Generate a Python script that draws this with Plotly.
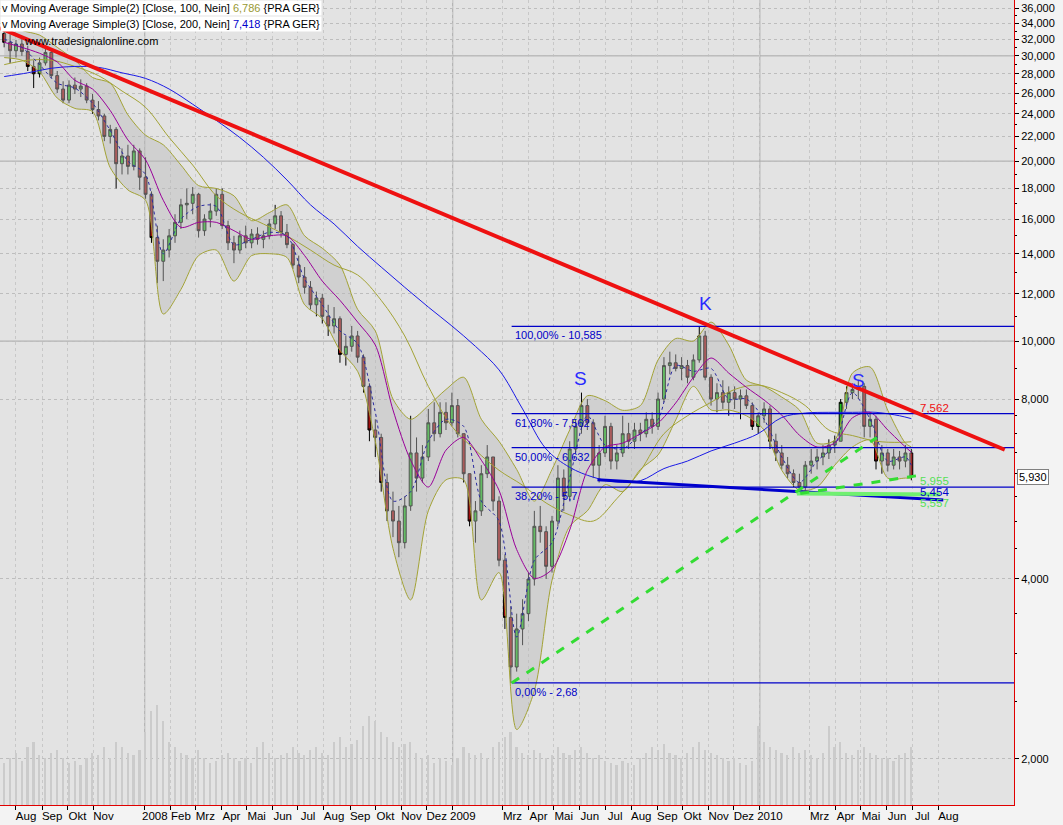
import numpy as np
import pandas as pd
import plotly.graph_objects as go

# ---------------- data (weekly) ----------------
week_start = "2007-07-18"
n_weeks = 155
dates = pd.date_range(week_start, periods=n_weeks, freq="7D")

opens = [32.7,31.6,30.6,31.4,30.5,28.8,28.0,29.2,30.4,27.8,
         26.4,25.3,26.8,26.4,26.7,25.3,24.4,23.8,22.0,22.6,
         19.8,20.4,19.6,20.8,18.8,17.6,14.9,13.6,14.2,15.0,
         15.8,16.9,17.0,17.6,15.3,16.0,16.5,17.6,15.6,14.6,
         14.2,15.0,14.6,15.1,14.8,15.0,15.7,16.2,15.2,14.5,
         13.4,12.8,12.3,11.5,11.8,11.0,10.6,10.9,9.5,9.8,
         10.2,9.4,8.4,7.1,6.9,5.8,5.2,5.0,4.6,5.3,
         6.5,5.9,6.4,7.3,7.0,7.6,7.3,7.8,7.0,6.0,
         5.0,5.2,6.0,6.4,5.4,4.3,3.45,2.85,3.3,3.5,
         4.0,4.9,4.8,4.2,5.0,5.9,5.5,6.6,7.2,7.8,
         7.3,6.2,6.5,7.2,6.3,6.5,7.0,6.8,7.1,7.0,
         7.4,7.2,8.0,9.1,9.2,9.0,9.1,8.7,9.3,10.2,
         8.7,8.0,8.2,7.9,8.2,8.0,8.1,7.8,7.2,7.5,
         7.7,6.8,6.5,6.2,6.0,5.8,5.7,6.2,6.3,6.4,
         6.5,6.7,6.8,7.9,8.2,8.3,8.4,7.2,7.4,6.3,
         6.5,6.2,6.4,6.3,6.5]
highs = [33.3,32.6,31.9,32.0,31.2,29.5,29.8,31.2,30.6,28.3,
         27.2,27.3,27.6,27.4,27.0,25.9,25.2,24.0,23.0,22.8,
         21.0,21.3,21.3,21.0,20.3,17.8,15.6,14.8,15.4,16.3,
         17.3,18.0,18.1,17.7,16.3,17.0,18.0,18.0,15.9,15.0,
         15.3,15.6,15.4,15.5,15.3,16.0,16.9,16.5,15.7,14.6,
         13.9,13.3,12.6,12.1,12.0,11.5,11.4,11.0,10.2,10.6,
         10.4,9.5,8.5,7.4,7.0,6.0,5.6,5.3,5.5,7.5,
         6.9,6.7,7.7,7.9,7.9,7.9,8.2,8.0,7.0,6.0,
         5.4,6.2,6.7,6.4,5.5,4.4,3.6,3.5,3.7,4.1,
         5.2,5.3,4.9,5.1,6.2,6.1,6.8,7.4,8.2,8.0,
         7.4,6.7,7.5,7.3,6.7,7.5,7.3,7.3,7.3,7.6,
         7.6,8.2,9.4,9.6,9.5,9.4,9.3,9.5,10.585,10.4,
         8.8,8.5,8.6,8.4,8.4,8.3,8.3,7.9,7.6,7.9,
         7.8,7.0,6.7,6.4,6.1,6.0,6.3,6.6,6.6,6.7,
         6.85,6.95,8.0,8.4,8.5,8.6,8.5,7.6,7.5,6.7,
         6.6,6.6,6.55,6.7,6.6]
lows = [31.0,29.2,29.8,30.0,28.3,26.5,27.6,28.9,27.5,26.0,
        25.0,25.0,25.9,25.6,25.0,24.0,23.4,21.6,21.4,18.0,
        19.0,19.0,19.3,17.9,17.3,14.6,12.5,12.6,13.8,14.6,
        15.4,16.0,16.3,14.9,15.0,15.5,16.2,15.4,14.2,13.5,
        14.0,14.3,14.3,14.5,14.3,14.8,15.4,14.9,14.3,13.2,
        12.5,12.0,11.3,11.0,10.7,10.2,10.3,9.2,9.1,9.6,
        9.2,8.2,6.8,6.4,5.6,5.0,4.7,4.35,4.5,5.2,
        5.6,5.8,6.3,6.8,6.9,7.1,7.2,6.9,5.8,4.9,
        4.6,5.1,5.9,5.2,4.2,3.3,2.68,2.8,3.1,3.4,
        3.9,4.6,4.0,4.1,4.9,5.2,5.4,6.5,7.0,7.1,
        5.9,5.8,6.4,6.1,6.1,6.4,6.6,6.6,6.8,6.9,
        7.0,7.1,7.9,8.8,8.9,8.6,8.5,8.6,9.2,8.6,
        7.8,7.6,7.7,7.5,7.7,7.4,7.7,7.1,7.0,7.3,
        6.6,6.3,6.1,5.9,5.7,5.55,5.6,6.0,6.1,6.2,
        6.35,6.5,6.8,7.7,8.0,8.0,6.9,6.9,6.1,6.0,
        6.05,6.1,6.1,6.15,5.85]
closes = [31.6,30.6,31.4,30.5,28.8,28.0,29.2,30.4,27.8,26.4,
          25.3,26.8,26.4,26.7,25.3,24.4,23.8,22.0,22.6,19.8,
          20.4,19.6,20.8,18.8,17.6,14.9,13.6,14.2,15.0,15.8,
          16.9,17.0,17.6,15.3,16.0,16.5,17.6,15.6,14.6,14.2,
          15.0,14.6,15.1,14.8,15.0,15.7,16.2,15.2,14.5,13.4,
          12.8,12.3,11.5,11.8,11.0,10.6,10.9,9.5,9.8,10.2,
          9.4,8.4,7.1,6.9,5.8,5.2,5.0,4.6,5.3,6.5,
          5.9,6.4,7.3,7.0,7.6,7.3,7.8,7.0,6.0,5.0,
          5.2,6.0,6.4,5.4,4.3,3.45,2.85,3.3,3.5,4.0,
          4.9,4.8,4.2,5.0,5.9,5.5,6.6,7.2,7.8,7.3,
          6.2,6.5,7.2,6.3,6.5,7.0,6.8,7.1,7.0,7.4,
          7.2,8.0,9.1,9.2,9.0,9.1,8.7,9.3,10.2,8.7,
          8.0,8.2,7.9,8.2,8.0,8.1,7.8,7.2,7.5,7.7,
          6.8,6.5,6.2,6.0,5.8,5.7,6.2,6.3,6.4,6.5,
          6.7,6.8,7.9,8.2,8.3,8.4,7.2,7.4,6.3,6.5,
          6.2,6.4,6.3,6.5,5.93]
volume = [40,45,50,42,55,60,48,45,50,52,
          45,40,42,38,45,50,48,55,45,60,
          55,50,48,52,70,90,95,80,60,55,
          50,48,45,52,45,40,42,48,50,45,
          42,45,40,55,60,50,45,48,50,55,
          50,48,52,55,50,48,60,65,55,58,
          62,75,85,80,70,65,60,55,58,60,
          50,45,48,40,45,42,38,45,55,50,
          48,50,45,55,60,65,70,55,50,48,
          52,50,45,48,55,50,48,52,55,50,
          45,48,42,40,38,42,40,38,45,50,
          55,52,58,50,48,45,50,55,60,52,
          50,48,45,42,45,40,38,42,75,60,
          55,52,50,48,55,50,52,48,45,50,
          75,55,60,50,48,52,55,50,48,45,
          45,42,48,50,55]

# indicator lines, sampled every 3rd week (plus last week)
ind_idx = list(range(0, 154, 3)) + [154]
bb_upper = [34.5,33.1,32.5,31.0,29.5,27.6,27.0,23.9,22.1,21.3,
            19.7,18.2,18.0,17.5,15.9,16.4,16.9,15.0,14.3,13.4,
            11.3,10.4,8.0,7.4,7.8,8.3,8.7,7.4,6.8,6.1,
            5.4,6.1,7.1,8.1,7.95,7.66,7.8,9.3,10.1,10.0,
            10.76,9.85,8.6,8.4,8.06,7.67,6.75,6.83,8.84,9.05,
            7.66,6.75,6.65]
bb_lower = [29.8,29.5,28.2,25.5,24.5,24.2,19.5,17.9,17.2,11.1,
            12.2,13.9,14.2,12.6,13.9,14.0,13.8,11.5,10.9,9.65,
            8.9,6.8,4.5,3.69,5.2,5.86,5.86,3.69,4.1,2.24,
            2.6,3.98,4.9,5.2,5.75,5.6,6.1,6.45,7.38,8.4,
            7.67,7.67,7.5,7.1,6.08,5.63,5.70,6.2,6.65,6.83,
            5.9,5.9,5.9]
bb_mid = [31.6,31.0,30.3,29.3,27.3,26.4,24.3,21.7,20.1,17.2,
          15.5,15.8,15.8,15.3,14.8,15.0,15.0,13.9,12.6,11.7,
          10.76,9.85,7.67,6.32,5.70,6.57,6.9,6.32,5.63,4.48,
          4.01,4.15,4.83,6.08,6.65,6.75,7.0,7.29,7.88,8.7,
          9.37,8.84,8.37,7.97,7.52,6.96,6.65,6.75,7.44,7.6,
          7.1,6.65,6.52]
short_ma = [32.0,31.0,29.0,27.0,26.5,25.0,22.5,20.0,19.0,14.0,
            16.0,16.8,16.8,14.5,14.8,15.2,15.0,12.7,11.5,10.4,
            9.9,7.6,5.4,5.6,6.8,7.4,7.2,5.4,5.0,3.2,
            4.3,4.6,5.9,7.5,6.7,6.6,7.0,7.4,9.1,8.9,
            9.0,8.0,8.0,7.4,6.4,5.8,6.3,6.7,8.2,7.4,
            6.3,6.4,6.2]

# moving averages, sampled every 4th week (plus last week)
ma_idx = list(range(0, 153, 4)) + [154]
ma100 = [29.0,29.5,29.5,28.8,27.8,26.2,24.6,21.9,19.7,17.5,
         16.4,15.7,15.0,14.2,13.4,12.9,11.7,10.2,8.4,7.2,
         6.57,6.08,5.74,5.36,5.12,5.0,5.45,6.07,7.0,7.5,
         7.9,8.3,8.44,8.2,7.8,7.1,6.95,6.8,6.77,6.786]
ma200 = [27.7,28.1,28.6,28.8,28.7,28.1,27.5,26.4,24.9,23.4,
         21.9,20.3,18.6,16.9,15.7,14.4,13.3,12.3,11.4,10.6,
         9.8,8.95,7.7,6.6,6.15,5.92,5.81,5.84,6.12,6.3,
         6.55,6.75,7.0,7.45,7.58,7.6,7.6,7.6,7.5,7.418]

# drawing tools
trend_dates = ["2007-07-13", "2010-10-19"]
trend_vals = [33.4, 6.58]
fib_start, fib_end = "2009-03-12", "2010-10-30"
fib_levels = [10.585, 7.562, 6.632, 5.70, 2.68]
fib_labels = ["100,00% - 10,585", "61,80% - 7,562", "50,00% - 6,632",
              "38,20% - 5,7", "0,00% - 2,68"]
neck_dates = ["2009-06-22", "2010-08-07"]
neck_vals = [5.86, 5.42]
support_dates = ["2010-02-14", "2010-08-03"]
support_vals = [5.56, 5.54]
up_dates = ["2009-03-12", "2010-05-20"]
up_vals = [2.68, 6.9]
up2_dates = ["2010-02-18", "2010-07-07"]
up2_vals = [5.56, 5.955]

month_starts = ["2007-08-01","2007-09-01","2007-10-01","2007-11-01",
                "2008-01-01","2008-02-01","2008-03-01","2008-04-01","2008-05-01",
                "2008-06-01","2008-07-01","2008-08-01","2008-09-01","2008-10-01",
                "2008-11-01","2008-12-01","2009-01-01","2009-03-01","2009-04-01",
                "2009-05-01","2009-06-01","2009-07-01","2009-08-01","2009-09-01",
                "2009-10-01","2009-11-01","2009-12-01","2010-01-01","2010-03-01",
                "2010-04-01","2010-05-01","2010-06-01","2010-07-01","2010-08-01"]
month_labels = ["Aug","Sep","Okt","Nov","2008","Feb","Mrz","Apr","Mai","Jun",
                "Jul","Aug","Sep","Okt","Nov","Dez","2009","Mrz","Apr","Mai",
                "Jun","Jul","Aug","Sep","Okt","Nov","Dez","2010","Mrz","Apr",
                "Mai","Jun","Jul","Aug"]
year_lines = ["2008-01-01", "2009-01-01", "2010-01-01"]

y_ticks = [2,4,8,10,12,14,16,18,20,22,24,26,28,30,32,34,36]
y_ticktext = ["2,000","4,000","8,000","10,000","12,000","14,000","16,000","18,000",
              "20,000","22,000","24,000","26,000","28,000","30,000","32,000",
              "34,000","36,000"]
y_minor = [2.5,3,3.5,4.5,5,5.5,6,6.5,7,7.5,9,11,13,15,17,19,21,23,25,27,29,31,33,35]
solid_levels = [10, 20, 30]
last_price = 5.93

# ---------------- figure ----------------
ind_dates = dates[ind_idx]
ma_dates = dates[ma_idx]

OLIVE = "#a3a336"
fig = go.Figure()

fig.add_trace(go.Bar(x=dates, y=volume, yaxis="y", marker=dict(color="#cbcbcb", line=dict(width=0)),
                     width=2 * 86400000, hoverinfo="skip", showlegend=False))

fig.add_trace(go.Scatter(x=ind_dates, y=bb_lower, yaxis="y2", mode="lines",
                         line=dict(color=OLIVE, width=1, shape="spline", smoothing=0.8),
                         hoverinfo="skip", showlegend=False))
fig.add_trace(go.Scatter(x=ind_dates, y=bb_upper, yaxis="y2", mode="lines", fill="tonexty",
                         fillcolor="rgba(185,185,185,0.45)",
                         line=dict(color=OLIVE, width=1, shape="spline", smoothing=0.8),
                         hoverinfo="skip", showlegend=False))
fig.add_trace(go.Scatter(x=ma_dates, y=ma100, yaxis="y2", mode="lines",
                         line=dict(color=OLIVE, width=1, shape="spline"),
                         hoverinfo="skip", showlegend=False))
fig.add_trace(go.Scatter(x=ma_dates, y=ma200, yaxis="y2", mode="lines",
                         line=dict(color="#1a1ae6", width=1, shape="spline"),
                         hoverinfo="skip", showlegend=False))
fig.add_trace(go.Scatter(x=ind_dates, y=bb_mid, yaxis="y2", mode="lines",
                         line=dict(color="#990099", width=1, shape="spline", smoothing=0.8),
                         hoverinfo="skip", showlegend=False))
fig.add_trace(go.Scatter(x=ind_dates, y=short_ma, yaxis="y2", mode="lines",
                         line=dict(color="#2a2aa0", width=1, dash="dot", shape="spline", smoothing=0.8),
                         hoverinfo="skip", showlegend=False))

fig.add_trace(go.Candlestick(x=dates, open=opens, high=highs, low=lows, close=closes, yaxis="y2",
                             increasing=dict(fillcolor="#1fc01f", line=dict(color="#000000", width=1)),
                             decreasing=dict(fillcolor="#a01010", line=dict(color="#000000", width=1)),
                             whiskerwidth=0, hoverinfo="skip", showlegend=False))

# fib lines
for lvl in fib_levels:
    fig.add_trace(go.Scatter(x=[fib_start, fib_end], y=[lvl, lvl], yaxis="y2", mode="lines",
                             line=dict(color="#0000c8", width=1.2), hoverinfo="skip", showlegend=False))
# neckline
fig.add_trace(go.Scatter(x=neck_dates, y=neck_vals, yaxis="y2", mode="lines",
                         line=dict(color="#0000cc", width=3), hoverinfo="skip", showlegend=False))
# green support
fig.add_trace(go.Scatter(x=support_dates, y=support_vals, yaxis="y2", mode="lines",
                         line=dict(color="#70f070", width=4), hoverinfo="skip", showlegend=False))
# green dashed trend lines
fig.add_trace(go.Scatter(x=up_dates, y=up_vals, yaxis="y2", mode="lines",
                         line=dict(color="#33dd33", width=3, dash="dash"), hoverinfo="skip", showlegend=False))
fig.add_trace(go.Scatter(x=up2_dates, y=up2_vals, yaxis="y2", mode="lines",
                         line=dict(color="#33dd33", width=3, dash="dash"), hoverinfo="skip", showlegend=False))
# red down trend
fig.add_trace(go.Scatter(x=trend_dates, y=trend_vals, yaxis="y2", mode="lines",
                         line=dict(color="#ee1111", width=4), hoverinfo="skip", showlegend=False))

shapes = []
for lvl in solid_levels:
    shapes.append(dict(type="line", xref="paper", x0=0, x1=1, yref="y2", y0=lvl, y1=lvl,
                       line=dict(color="#a8a8a8", width=1), layer="below"))
for d in year_lines:
    shapes.append(dict(type="line", xref="x", x0=d, x1=d, yref="paper", y0=0, y1=1,
                       line=dict(color="#a8a8a8", width=1), layer="below"))

FONT = "Liberation Sans, Arial, sans-serif"
ann = []
for lvl, lab in zip(fib_levels, fib_labels):
    ann.append(dict(x="2009-03-14", y=np.log10(lvl), xref="x", yref="y2", text=lab,
                    xanchor="left", yanchor="top", yshift=-1, showarrow=False,
                    font=dict(family=FONT, size=11, color="#0000c8")))
for txt, d, v in [("S", "2009-06-02", 8.67), ("K", "2009-10-28", 11.57), ("S", "2010-04-28", 8.6)]:
    ann.append(dict(x=d, y=np.log10(v), xref="x", yref="y2", text=txt, showarrow=False,
                    font=dict(family=FONT, size=19, color="#2a2aff")))
for txt, v, col in [("7,562", 7.73, "#ee1111"), ("5,955", 5.84, "#55e055"),
                    ("5,454", 5.60, "#0000cc"), ("5,557", 5.36, "#55e055")]:
    ann.append(dict(x="2010-07-08", y=np.log10(v), xref="x", yref="y2", text=txt,
                    xanchor="left", showarrow=False,
                    font=dict(family=FONT, size=11.5, color=col)))
ann.append(dict(x=1.0, xref="paper", xshift=3, y=np.log10(last_price), yref="y2", text="5,930",
                xanchor="left", showarrow=False, bgcolor="#ffffff", bordercolor="#808080",
                borderwidth=1, borderpad=1, font=dict(family=FONT, size=11, color="#000000")))
ann.append(dict(x=0, y=1, xref="paper", yref="paper", xanchor="left", yanchor="top",
                text="v Moving Average Simple(2) [Close, 100, Nein] <span style='color:#999933'>6,786</span> {PRA GER}",
                showarrow=False, bgcolor="#ffffff", borderpad=1,
                font=dict(family=FONT, size=11, color="#000000")))
ann.append(dict(x=0, y=1, yshift=-16, xref="paper", yref="paper", xanchor="left", yanchor="top",
                text="v Moving Average Simple(3) [Close, 200, Nein] <span style='color:#0000cc'>7,418</span> {PRA GER}",
                showarrow=False, bgcolor="#ffffff", borderpad=1,
                font=dict(family=FONT, size=11, color="#000000")))
ann.append(dict(x=0, xshift=22, y=1, yshift=-33, xref="paper", yref="paper", xanchor="left", yanchor="top",
                text="www.tradesignalonline.com", showarrow=False,
                font=dict(family=FONT, size=11, color="#000000")))

label_pos = [pd.Timestamp(m) + pd.Timedelta(days=12) for m in month_starts]

fig.update_layout(
    width=1063, height=825,
    margin=dict(l=0, r=49, t=0, b=20),
    paper_bgcolor="#f3f3f3", plot_bgcolor="#e3e3e3",
    hovermode=False, showlegend=False, bargap=0,
    shapes=shapes, annotations=ann,
    font=dict(family=FONT, size=11, color="#000000"),
    xaxis=dict(type="date", range=["2007-07-13", "2010-10-30"], rangeslider=dict(visible=False),
               tickvals=label_pos, ticktext=month_labels, ticks="", showgrid=False,
               tickfont=dict(family=FONT, size=11.5, color="#000000"),
               showline=True, linecolor="#e00000", linewidth=1, zeroline=False,
               minor=dict(tickvals=month_starts, ticks="outside", ticklen=4, tickcolor="#000000",
                          showgrid=True, gridcolor="#c8c8c8", griddash="dot", gridwidth=1)),
    yaxis=dict(range=[0, 767], visible=False, fixedrange=True),
    yaxis2=dict(type="log", overlaying="y", side="right",
                range=[np.log10(1.675), np.log10(37.2)],
                tickvals=y_ticks, ticktext=y_ticktext, ticks="outside", ticklen=4,
                tickcolor="#000000", tickfont=dict(family=FONT, size=11, color="#000000"),
                showgrid=True, gridcolor="#bdbdbd", griddash="dot", gridwidth=1,
                showline=True, linecolor="#e00000", linewidth=1, zeroline=False,
                minor=dict(tickvals=y_minor, ticks="outside", ticklen=2, tickcolor="#000000",
                           showgrid=False)),
)

fig.write_html("out.html", config={"displayModeBar": False},
               post_script="document.body.style.margin='0';document.body.style.overflow='hidden';")
